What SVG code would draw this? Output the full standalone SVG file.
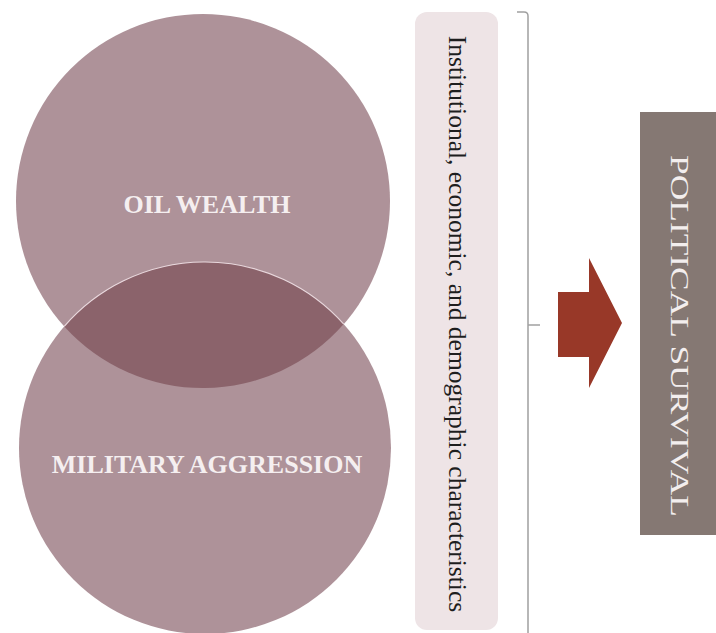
<svg xmlns="http://www.w3.org/2000/svg" width="716" height="633" viewBox="0 0 716 633">
<style>
.circ{fill:#AE9299}
.lens{fill:#8B636B}
.ctext{font-family:"Liberation Serif","Times New Roman",serif;font-weight:bold;font-size:26px;fill:#F5EFF0;text-anchor:middle}
.vtext{font-family:"Liberation Serif","Times New Roman",serif;text-anchor:middle}
.brk{fill:none;stroke:#A0A0A0;stroke-width:1.5}
</style>
<rect width="716" height="633" fill="#FFFFFF"/>
<g id="oil-wealth">
<circle class="circ" cx="203" cy="201" r="187"/>
</g>
<g id="military-aggression">
<circle class="circ" cx="205" cy="448" r="186"/>
</g>
<g id="overlap">
<path class="lens" d="M64.27 326.38 A186 186 0 0 1 343.74 324.12 A187 187 0 0 1 64.27 326.38 Z"/>
<path d="M64.27 326.38 A186 186 0 0 1 343.74 324.12" fill="none" stroke="#F6E8EC" stroke-width="1.2" opacity="0.85"/>
</g>
<g id="labels">
<text class="ctext" x="207" y="213">OIL WEALTH</text>
<text class="ctext" x="207" y="473">MILITARY AGGRESSION</text>
</g>
<g id="characteristics">
<rect x="415" y="12" width="83" height="618" rx="12" fill="#EEE4E6"/>
<text class="vtext" transform="translate(449,324) rotate(90)" font-size="25.5" fill="#1E1E1E">Institutional, economic, and demographic characteristics</text>
</g>
<g id="political-survival">
<rect x="640" y="112" width="76" height="423" fill="#857873"/>
<text class="vtext" transform="translate(671,336) rotate(90)" font-size="26" fill="#F3EEEE" textLength="362" lengthAdjust="spacingAndGlyphs">POLITICAL SURVIVAL</text>
</g>
<g id="connectors">
<path class="brk" d="M517 12 L524 12 Q528 12 528 16 L528 633"/>
<path class="brk" d="M528 325 L540 325"/>
<polygon points="558,292 589,292 589,258 622,323 589,388 589,357 558,357" fill="#983828"/>
</g>
</svg>
